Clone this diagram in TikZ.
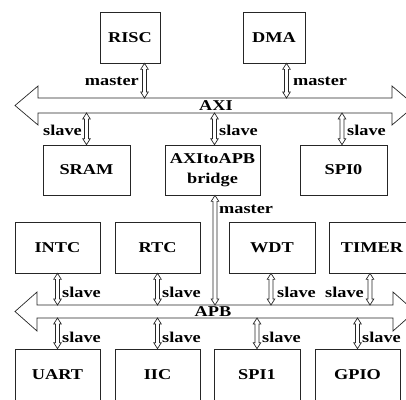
\documentclass[tikz,border=0pt]{standalone}
\usepackage{fontspec}
\setmainfont{Liberation Serif}[FakeStretch=1.22]
\usetikzlibrary{calc}
\tikzset{
  lw/.style={line width=0.7pt, draw=black!85},
  box/.style={lw, rectangle, inner sep=0pt, font=\fontsize{15}{20}\selectfont\bfseries, align=center},
  lbl/.style={inner sep=0pt, font=\fontsize{15}{17}\selectfont\bfseries},
  dbl/.style={lw, fill=white, to path={
    let \p1=(\tikztostart), \p2=(\tikztotarget), \n1={sign(\y2-\y1)} in
    (\x1,\y1) -- ({\x1+3.8pt},{\y1+\n1*6pt}) -- ({\x1+2pt},{\y1+\n1*6pt})
    -- ({\x1+2pt},{\y2-\n1*6pt}) -- ({\x1+3.8pt},{\y2-\n1*6pt}) -- (\x1,\y2)
    -- ({\x1-3.8pt},{\y2-\n1*6pt}) -- ({\x1-2pt},{\y2-\n1*6pt})
    -- ({\x1-2pt},{\y1+\n1*6pt}) -- ({\x1-3.8pt},{\y1+\n1*6pt}) -- cycle}},
  bus/.style={lw, fill=white}
}
\begin{document}
\begin{tikzpicture}[x=1pt,y=-1pt]
\clip (0,0) rectangle (406,399);
% boxes
\node[box, minimum width=60pt, minimum height=51pt] (risc) at (130,37.5) {RISC};
\node[box, minimum width=62pt, minimum height=51pt] (dma) at (274,37.5) {DMA};
\node[box, minimum width=87pt, minimum height=50pt] (sram) at (86.5,170) {SRAM};
\node[box, minimum width=95pt, minimum height=50pt] (br) at (212.5,170) {AXItoAPB\\bridge};
\node[box, minimum width=87pt, minimum height=50pt] (spi0) at (343.5,170) {SPI0};
\node[box, minimum width=85pt, minimum height=51pt] (intc) at (57.5,247.5) {INTC};
\node[box, minimum width=85pt, minimum height=51pt] (rtc) at (157.5,247.5) {RTC};
\node[box, minimum width=86pt, minimum height=51pt] (wdt) at (272,247.5) {WDT};
\node[box, minimum width=86pt, minimum height=51pt] (timer) at (372,247.5) {TIMER};
\node[box, minimum width=85pt, minimum height=51pt] (uart) at (57.5,374.5) {UART};
\node[box, minimum width=85pt, minimum height=51pt] (iic) at (157.5,374.5) {IIC};
\node[box, minimum width=86pt, minimum height=51pt] (spi1) at (257,374.5) {SPI1};
\node[box, minimum width=85pt, minimum height=51pt] (gpio) at (357.5,374.5) {GPIO};
% buses
\draw[bus] (15,105.5) -- (38,86) -- (38,98) -- (392,98) -- (392,86) -- (415,105.5)
  -- (392,125) -- (392,113) -- (38,113) -- (38,125) -- cycle;
\coordinate (axiT) at (0,98);
\coordinate (axiB) at (0,113);
\node[lbl] (axi) at (216,106) {AXI};
\draw[bus] (15,311.5) -- (37,292) -- (37,305) -- (393,305) -- (393,292) -- (415,311.5)
  -- (393,331) -- (393,318) -- (37,318) -- (37,331) -- cycle;
\coordinate (apbT) at (0,305);
\coordinate (apbB) at (0,318);
\node[lbl] (apb) at (213,312) {APB};
% connectors AXI
\draw[dbl] ([xshift=14.5pt]risc.south) to ([xshift=14.5pt]risc.south |- axiT);
\node[lbl, anchor=east] (m1) at (139,81) {master};
\draw[dbl] ([xshift=12.5pt]dma.south) to ([xshift=12.5pt]dma.south |- axiT);
\node[lbl, anchor=west] (m2) at (293,81) {master};
\draw[dbl] (sram.north |- axiB) to (sram.north);
\node[lbl, anchor=east] (s1) at (82,130) {slave};
\draw[dbl] ([xshift=2pt]br.north |- axiB) to ([xshift=2pt]br.north);
\node[lbl, anchor=west] (s2) at (219,130) {slave};
\draw[dbl] ([xshift=-1.5pt]spi0.north |- axiB) to ([xshift=-1.5pt]spi0.north);
\node[lbl, anchor=west] (s3) at (347,130) {slave};
% bridge master
\draw[dbl] ([xshift=2.5pt]br.south) to ([xshift=2.5pt]br.south |- apbT);
\node[lbl, anchor=west] (m3) at (219,209) {master};
% APB top
\draw[dbl] (intc.south) to (intc.south |- apbT);
\node[lbl, anchor=west] (s4) at (62,292) {slave};
\draw[dbl] (rtc.south) to (rtc.south |- apbT);
\node[lbl, anchor=west] (s5) at (162,292) {slave};
\draw[dbl] ([xshift=-1pt]wdt.south) to ([xshift=-1pt]wdt.south |- apbT);
\node[lbl, anchor=west] (s6) at (277,292) {slave};
\draw[dbl] ([xshift=-2pt]timer.south) to ([xshift=-2pt]timer.south |- apbT);
\node[lbl, anchor=east] (s7) at (364,292) {slave};
% APB bottom
\draw[dbl] (uart.north |- apbB) to (uart.north);
\node[lbl, anchor=west] (s8) at (62,337) {slave};
\draw[dbl] (iic.north |- apbB) to (iic.north);
\node[lbl, anchor=west] (s9) at (162,337) {slave};
\draw[dbl] (spi1.north |- apbB) to (spi1.north);
\node[lbl, anchor=west] (s10) at (262,337) {slave};
\draw[dbl] (gpio.north |- apbB) to (gpio.north);
\node[lbl, anchor=west] (s11) at (362,337) {slave};
\end{tikzpicture}
\end{document}
